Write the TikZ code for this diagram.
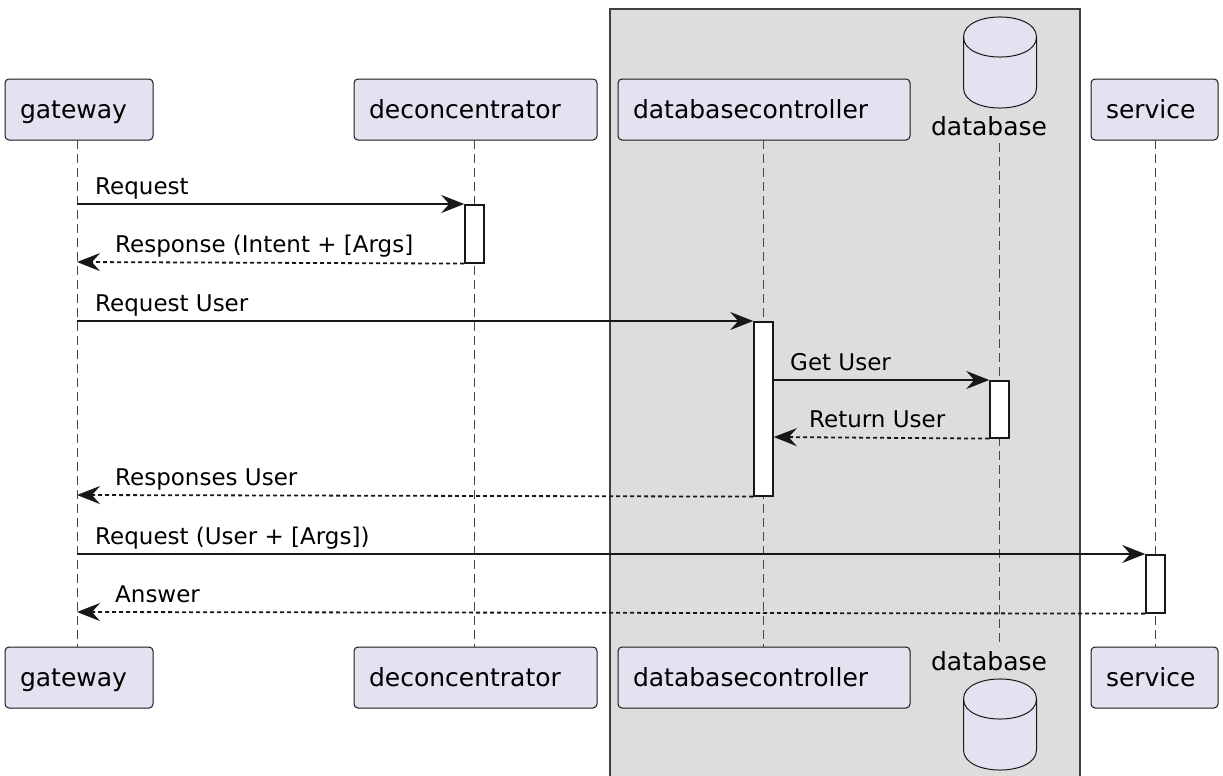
\documentclass[tikz,border=0pt]{standalone}
\usepackage{fontspec}
\setmainfont{DejaVu Sans}
\usetikzlibrary{arrows.meta}
\definecolor{partfill}{HTML}{E2E2F0}
\definecolor{partline}{HTML}{181818}
\definecolor{groupfill}{HTML}{DDDDDD}
\tikzset{
  participant/.style={draw=partline, fill=partfill, line width=1pt, rounded corners=4pt,
    minimum height=61pt, inner xsep=15pt, inner ysep=0pt, text height=21pt, text depth=4pt,
    align=left, font=\fontsize{25}{30}\selectfont},
  dblabel/.style={inner sep=0pt, text height=19pt, text depth=6pt, font=\fontsize{25}{30}\selectfont},
  lifeline/.style={draw=partline!80, line width=1pt, dash pattern=on 9pt off 5pt},
  activation/.style={draw=partline, fill=white, line width=1.6pt, minimum width=19pt, inner sep=0pt},
  msg/.style={draw=partline, line width=1.8pt, -{Stealth[length=23pt, width=18pt, inset=8pt]}},
  ret/.style={msg, dash pattern=on 4pt off 3pt},
  msglabel/.style={inner sep=0pt, anchor=base west, font=\fontsize{23}{27}\selectfont},
  cyl/.style={draw=partline, fill=partfill, line width=1pt}
}
\begin{document}
\begin{tikzpicture}[x=1pt, y=-1pt]
\useasboundingbox (0,0) rectangle (1223,776);
\fill[white] (0,0) rectangle (1223,776);
% group box
\draw[fill=groupfill, draw=black!75, line width=1.2pt] (610,9) rectangle (1080,790);

% participants top
\node[participant, text width=118pt] (gw) at (79,109.5) {gateway};
\node[participant, text width=213pt] (dc) at (475.5,109.5) {deconcentrator};
\node[participant, text width=262pt] (ctl) at (764,109.5) {databasecontroller};
\node[participant, text width=97pt] (sv) at (1154.5,109.5) {service};
% participants bottom
\node[participant, text width=118pt] (gwb) at (79,677.5) {gateway};
\node[participant, text width=213pt] (dcb) at (475.5,677.5) {deconcentrator};
\node[participant, text width=262pt] (ctlb) at (764,677.5) {databasecontroller};
\node[participant, text width=97pt] (svb) at (1154.5,677.5) {service};

% database top cylinder
\path[cyl] (963.5,37) -- (963.5,88)
  .. controls (963.5,114.7) and (1036.5,114.7) .. (1036.5,88)
  -- (1036.5,37)
  .. controls (1036.5,10.3) and (963.5,10.3) .. (963.5,37) -- cycle;
\draw[partline, line width=1pt] (963.5,37) .. controls (963.5,63.7) and (1036.5,63.7) .. (1036.5,37);
\node[dblabel] (db) at (989,129) {database};
% database bottom cylinder
\path[cyl] (963.5,699) -- (963.5,750)
  .. controls (963.5,776.7) and (1036.5,776.7) .. (1036.5,750)
  -- (1036.5,699)
  .. controls (1036.5,672.3) and (963.5,672.3) .. (963.5,699) -- cycle;
\draw[partline, line width=1pt] (963.5,699) .. controls (963.5,725.7) and (1036.5,725.7) .. (1036.5,699);
\node[dblabel] (dbb) at (989,664) {database};

% lifelines
\coordinate (gwT) at (77,140); \coordinate (gwB) at (77,647);
\coordinate (dcT) at (474,140); \coordinate (dcB) at (474,647);
\coordinate (ctlT) at (763,140); \coordinate (ctlB) at (763,647);
\coordinate (dbT) at (999,143); \coordinate (dbB) at (999,647);
\coordinate (svT) at (1155,140); \coordinate (svB) at (1155,647);
\draw[lifeline] (gwT) -- (gwB);
\draw[lifeline] (dcT) -- (dcB);
\draw[lifeline] (ctlT) -- (ctlB);
\draw[lifeline] (dbT) -- (dbB);
\draw[lifeline] (svT) -- (svB);

% activations
\node[activation, minimum height=58pt, anchor=north] (a1) at (474.5,204) {};
\node[activation, minimum height=174pt, anchor=north] (a2) at (763.5,321) {};
\node[activation, minimum height=57pt, anchor=north] (a3) at (999.5,380) {};
\node[activation, minimum height=58pt, anchor=north] (a4) at (1155.5,554) {};

% messages
\coordinate (m1s) at (77,204);
\draw[msg] (m1s) -- (a1.north west);
\node[msglabel] (l1) at (95,194) {Request};

\coordinate (m2e) at (77,262);
\draw[ret] (a1.south west) -- (m2e);
\node[msglabel] (l2) at (115,252) {Response (Intent + [Args]};

\coordinate (m3s) at (77,321);
\draw[msg] (m3s) -- (a2.north west);
\node[msglabel] (l3) at (95,311) {Request User};

\coordinate (m4s) at (a2.east |- 0,380);
\draw[msg] (m4s) -- (a3.north west);
\node[msglabel] (l4) at (790,370) {Get User};

\coordinate (m5e) at (a2.east |- 0,437);
\draw[ret] (a3.south west) -- (m5e);
\node[msglabel] (l5) at (809,427) {Return User};

\coordinate (m6e) at (77,495);
\draw[ret] (a2.south west) -- (m6e);
\node[msglabel] (l6) at (115,485) {Responses User};

\coordinate (m7s) at (77,554);
\draw[msg] (m7s) -- (a4.north west);
\node[msglabel] (l7) at (95,544) {Request (User + [Args])};

\coordinate (m8e) at (77,612);
\draw[ret] (a4.south west) -- (m8e);
\node[msglabel] (l8) at (115,602) {Answer};
\end{tikzpicture}
\end{document}
